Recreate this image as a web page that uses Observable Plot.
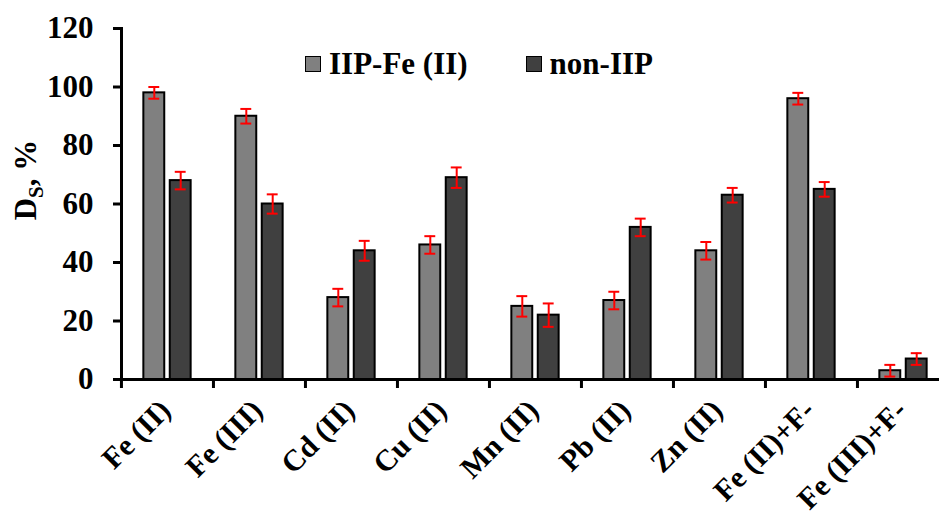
<!DOCTYPE html>
<html>
<head>
<meta charset="utf-8">
<script src="https://cdn.jsdelivr.net/npm/d3@7"></script>
<script src="https://cdn.jsdelivr.net/npm/@observablehq/plot@0.6"></script>
<style>
  html, body { margin: 0; padding: 0; background: #fff; }
  #wrap { position: relative; width: 939px; height: 520px; overflow: hidden; }
  #legend { position: absolute; left: 305px; top: 46px; display: flex; align-items: center;
    font-family: "Liberation Serif", "Times New Roman", Tinos, "DejaVu Serif", serif; font-weight: bold; font-size: 31px; color: #000; }
  .sw { width: 14px; height: 14px; border: 1.5px solid #000; margin-right: 8px; }
  .item { display: flex; align-items: center; }
  svg text { font-family: "Liberation Serif", "Times New Roman", Tinos, "DejaVu Serif", serif; }
</style>
</head>
<body>
<div id="wrap"></div>
<script>
const categories = ["Fe (II)", "Fe (III)", "Cd (II)", "Cu (II)", "Mn (II)", "Pb (II)", "Zn (II)", "Fe (II)+F-", "Fe (III)+F-"];
const seriesNames = ["IIP-Fe (II)", "non-IIP"];
const seriesColors = ["#808080", "#404040"];
const iipValues = [98, 90, 28, 46, 25, 27, 44, 96, 3];
const iipErrors = [2, 2.5, 3, 3, 3.5, 3, 3, 2, 2];
const nonIipValues = [68, 60, 44, 69, 22, 52, 63, 65, 7];
const nonIipErrors = [3, 3.3, 3.4, 3.5, 4, 3, 2.5, 2.5, 2];
const yTicks = [0, 20, 40, 60, 80, 100, 120];

const rows = [];
categories.forEach((c, i) => {
  rows.push({category: c, series: seriesNames[0], value: iipValues[i], err: iipErrors[i]});
  rows.push({category: c, series: seriesNames[1], value: nonIipValues[i], err: nonIipErrors[i]});
});
const s0 = rows.filter(d => d.series === seriesNames[0]);
const s1 = rows.filter(d => d.series === seriesNames[1]);

const font = "'Liberation Serif', 'Times New Roman', Tinos, 'DejaVu Serif', serif";
const W = 939, H = 520;
const left = 121, bandW = 92.1;
const xRange = [left, left + bandW * categories.length];
const barW = 21, off = 13.2, capW = 11;
const barInset = (bandW - barW) / 2;
const capInset = (bandW - capW) / 2;

function seriesMarks(data, color, dx) {
  return [
    Plot.barY(data, {x: "category", y: "value", fill: color, stroke: "#000", strokeWidth: 2,
      insetLeft: barInset, insetRight: barInset, dx}),
    Plot.ruleX(data, {x: "category", y1: d => d.value - d.err, y2: d => d.value + d.err,
      stroke: "#ff0000", strokeWidth: 2, dx}),
    Plot.tickY(data, {x: "category", y: d => d.value + d.err, stroke: "#ff0000", strokeWidth: 2,
      insetLeft: capInset, insetRight: capInset, dx}),
    Plot.tickY(data, {x: "category", y: d => d.value - d.err, stroke: "#ff0000", strokeWidth: 2,
      insetLeft: capInset, insetRight: capInset, dx})
  ];
}

const chart = Plot.plot({
  width: W,
  height: H,
  marginLeft: left,
  marginRight: 0,
  marginTop: 28,
  marginBottom: 141,
  style: {fontFamily: font, background: "#fff", overflow: "hidden"},
  x: {domain: categories, range: xRange, padding: 0},
  y: {domain: [0, 120]},
  marks: [
    ...seriesMarks(s0, seriesColors[0], -off),
    ...seriesMarks(s1, seriesColors[1], off),
    Plot.frame({anchor: "left", stroke: "#000", strokeWidth: 3}),
    Plot.frame({anchor: "bottom", stroke: "#000", strokeWidth: 3}),
    Plot.axisY({ticks: yTicks, tickSize: 8, tickPadding: 20, tickFormat: d => String(d),
      fontSize: 31, fontWeight: "bold", stroke: "#000", strokeWidth: 3, label: null}),
    Plot.axisX({tickSize: 9, tickFormat: () => "", dx: -bandW / 2, stroke: "#000", strokeWidth: 3, label: null}),
    Plot.axisX({tickSize: 0, tickPadding: 26, tickRotate: -45, textAnchor: "end", dx: -2,
      fontSize: 30, fontWeight: "bold", label: null}),
    Plot.text(["D_S"], {frameAnchor: "left", textAnchor: "middle", rotate: -90, dx: -95, dy: -24, text: d => d,
      fontSize: 31, fontWeight: "bold", className: "ylab"})
  ]
});

document.getElementById("wrap").appendChild(chart);

// rich y label with subscript
d3.select(chart).selectAll(".ylab text").each(function() {
  const t = d3.select(this);
  t.text("");
  t.append("tspan").text("D");
  t.append("tspan").attr("font-size", 21).attr("dy", 7).text("S");
  t.append("tspan").attr("dy", -7).text(", %");
});

const legend = document.createElement("div");
legend.id = "legend";
seriesNames.forEach((name, i) => {
  const item = document.createElement("div");
  item.className = "item";
  if (i > 0) item.style.marginLeft = "58px";
  const sw = document.createElement("div");
  sw.className = "sw";
  sw.style.background = seriesColors[i];
  const tx = document.createElement("span");
  tx.textContent = name;
  item.appendChild(sw);
  item.appendChild(tx);
  legend.appendChild(item);
});
document.getElementById("wrap").appendChild(legend);
</script>
</body>
</html>
